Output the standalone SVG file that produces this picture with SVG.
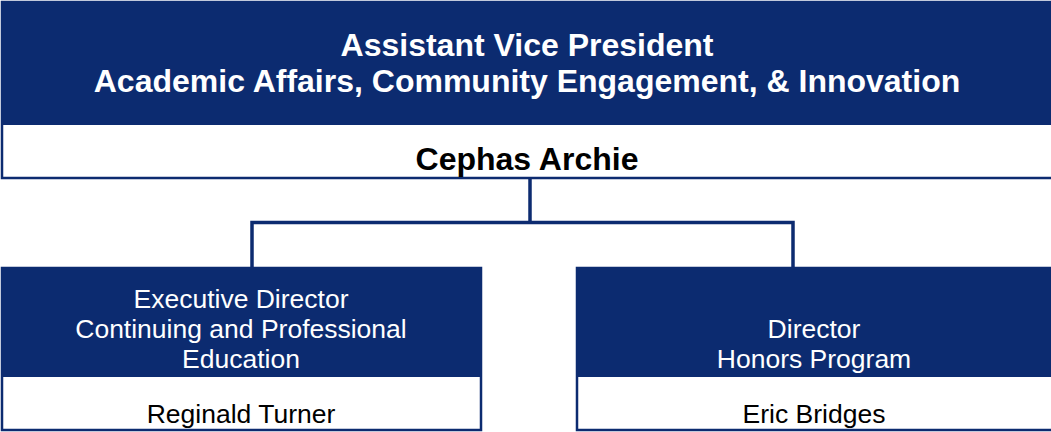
<svg xmlns="http://www.w3.org/2000/svg" width="1051" height="432" viewBox="0 0 1051 432">
<style>
.hd{fill:#0c2b70}
.bx{fill:#fff;stroke:#0c2b70;stroke-width:2.5}
.t1{font-family:"Liberation Sans",Arial,sans-serif;font-weight:bold;font-size:32px;fill:#fff;text-anchor:middle}
.n1{font-family:"Liberation Sans",Arial,sans-serif;font-weight:bold;font-size:32px;fill:#000;text-anchor:middle}
.t2{font-family:"Liberation Sans",Arial,sans-serif;font-size:26.5px;fill:#fff;text-anchor:middle}
.n2{font-family:"Liberation Sans",Arial,sans-serif;font-size:26.5px;fill:#000;text-anchor:middle}
.cn{fill:none;stroke:#0c2b70;stroke-width:3.5}
</style>
<g id="connectors">
<path class="cn" d="M530 179V222.5M252 267V222.5H793V267"/>
</g>
<g id="avp">
<rect class="bx" x="2" y="2" width="1060" height="176"/>
<rect class="hd" x="1" y="1" width="1062" height="124"/>
<text class="t1" x="527" y="56">Assistant Vice President</text>
<text class="t1" x="527" y="92">Academic Affairs, Community Engagement, &amp; Innovation</text>
<text class="n1" x="527" y="170">Cephas Archie</text>
</g>
<g id="cpe">
<rect class="bx" x="2" y="268" width="479" height="162"/>
<rect class="hd" x="1" y="267" width="481" height="110"/>
<text class="t2" x="241" y="308">Executive Director</text>
<text class="t2" x="241" y="338">Continuing and Professional</text>
<text class="t2" x="241" y="368">Education</text>
<text class="n2" x="241" y="423">Reginald Turner</text>
</g>
<g id="honors">
<rect class="bx" x="577" y="268" width="485" height="162"/>
<rect class="hd" x="576" y="267" width="487" height="110"/>
<text class="t2" x="814" y="338">Director</text>
<text class="t2" x="814" y="368">Honors Program</text>
<text class="n2" x="814" y="423">Eric Bridges</text>
</g>
</svg>
